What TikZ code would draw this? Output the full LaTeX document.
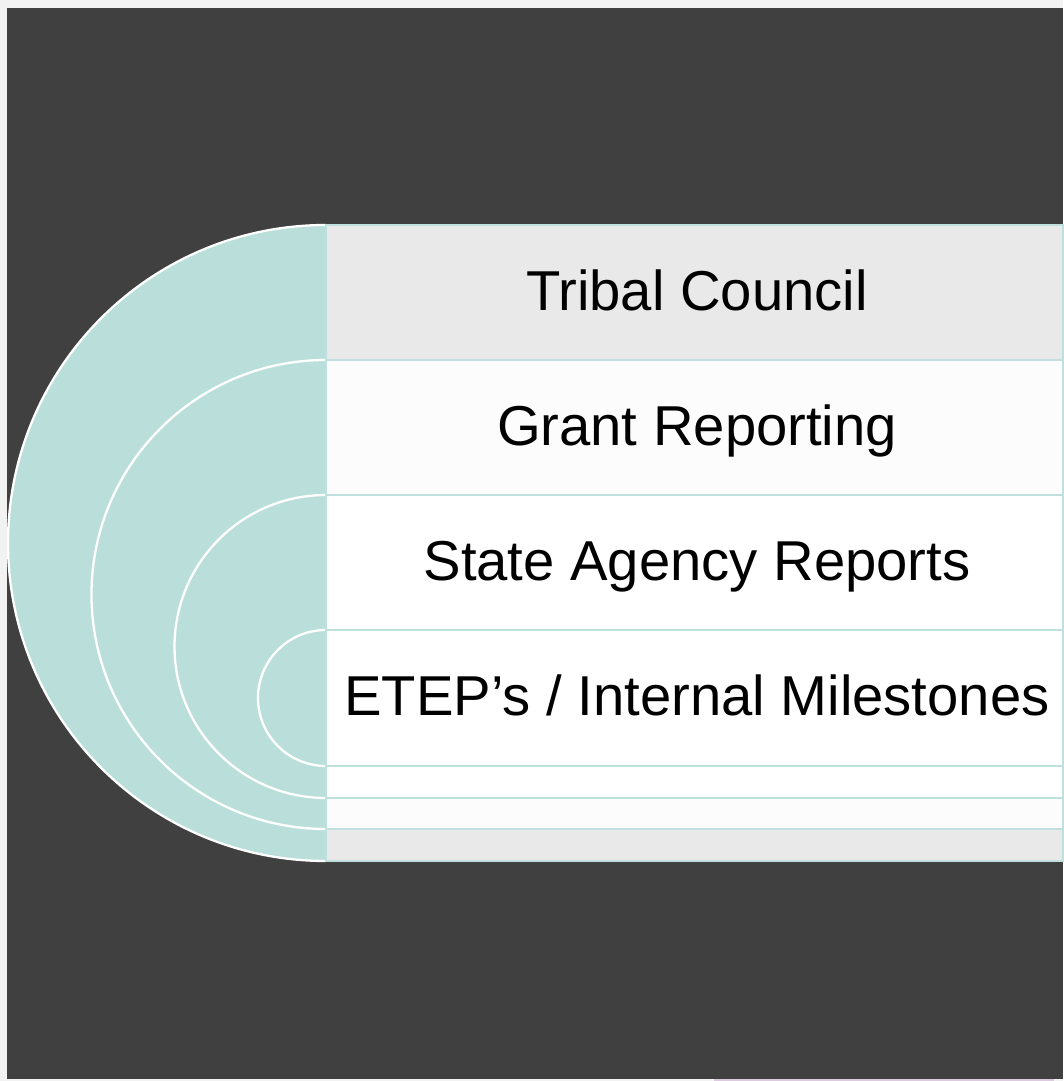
\documentclass[tikz,border=0pt]{standalone}
\usepackage{fontspec}
\setmainfont{Liberation Sans}
\usepackage{tikz}

\definecolor{pagegray}{HTML}{F2F2F2}
\definecolor{backdark}{HTML}{404040}
\definecolor{ringteal}{HTML}{BADFDB}
\definecolor{bandline}{HTML}{BFE1DD}
\definecolor{bandgray}{HTML}{E9E9E9}
\definecolor{bandlight}{HTML}{FCFCFC}
\definecolor{stripmauve}{HTML}{DCCADF}

\tikzset{
  bandtext/.style={anchor=base,inner sep=0pt,font=\fontsize{32}{38}\selectfont,text=black},
  ringedge/.style={white,line width=1.3pt},
  bandedge/.style={bandline,line width=1.3pt}
}

\begin{document}
\begin{tikzpicture}[x=0.02cm,y=0.02cm]
                    \useasboundingbox (0,0) rectangle (1063,1081);
                    \fill[pagegray] (0,0) rectangle (1063,1081);
                    \fill[backdark] (7,2) rectangle (1063,1073);
                    \fill[stripmauve] (714,0) rectangle (1054,2);
                    \foreach \t/\b/\c in {856/220/bandgray,721/252/bandlight,586/283/white,451/315/white} {
                        \pgfmathsetmacro{\r}{(\t-\b)/2*0.02}
                        \fill[ringteal] (326,\t) arc[start angle=90,end angle=270,radius=\r cm] -- cycle;
                        \draw[ringedge] (326,\t) arc[start angle=90,end angle=270,radius=\r cm];
                        \draw[bandedge,fill=\c] (326,\b) rectangle (1063,\t);
                    }
                    \node[bandtext] (tribal) at (697,770.5) {Tribal Council};
                    \node[bandtext] (grant) at (697,635.5) {Grant Reporting};
                    \node[bandtext] (state) at (697,500.5) {State Agency Reports};
                    \node[bandtext] (etep) at (697,365.5) {ETEP’s / Internal Milestones};
                \end{tikzpicture}
\end{document}
